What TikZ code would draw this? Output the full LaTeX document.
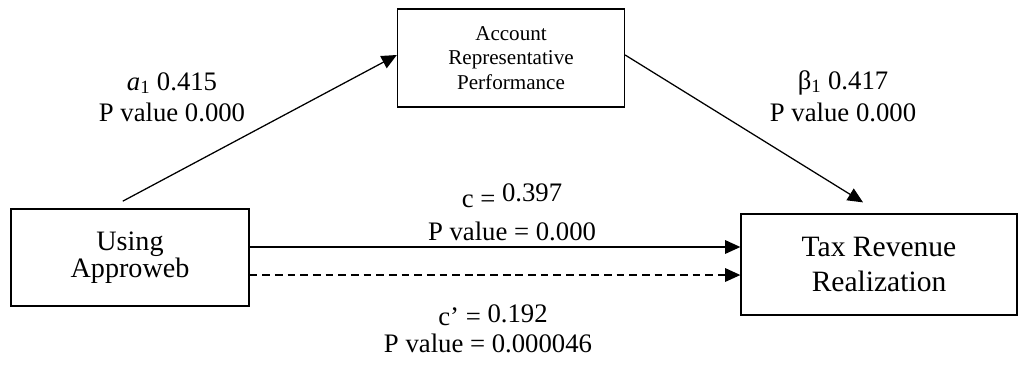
\documentclass[tikz,border=0pt]{standalone}
\usepackage{fontspec}
\setmainfont{Liberation Serif}
\usetikzlibrary{arrows.meta}
\begin{document}
\begin{tikzpicture}[x=0.025cm,y=-0.025cm,
    box/.style={draw,line width=0.9pt,align=center,inner sep=0pt},
    lab/.style={anchor=base,inner sep=0pt,font=\fontsize{19}{22}\selectfont},
    >={Triangle[length=0.38cm,width=0.34cm]}]
    \useasboundingbox (0,0) rectangle (1018,364);
    \node[box,minimum width=5.675cm,minimum height=2.45cm,font=\fontsize{15}{17.4}\selectfont]
        (med) at (511,58) {Account\\Representative\\Performance};
    \node[box,minimum width=5.95cm,minimum height=2.425cm,font=\fontsize{20}{19}\selectfont]
        (use) at (130,257.5) {Using\\Approweb};
    \node[box,minimum width=6.9cm,minimum height=2.525cm,font=\fontsize{21}{25.5}\selectfont]
        (tax) at (879,264.5) {Tax Revenue\\Realization};
    \node[lab] (a1) at (172,90) {\textit{a}\textsubscript{1} 0.415};
    \node[lab] (a1p) at (172,121) {P value 0.000};
    \node[lab] (b1) at (843,89) {β\textsubscript{1} 0.417};
    \node[lab] (b1p) at (843,121) {P value 0.000};
    \node[lab] (c) at (512,207) {c = \raisebox{4pt}{0.397}};
    \node[lab] (cp) at (512,240) {P value = 0.000};
    \node[lab] (cc) at (493,325) {c’ = \raisebox{2pt}{0.192}};
    \node[lab] (ccp) at (488,352) {P value = 0.000046};
    \coordinate (s1) at ([yshift=0.2625cm]use.east);
    \coordinate (s2) at ([yshift=-0.4375cm]use.east);
    \begin{scope}[line width=0.9pt]
        \draw[->] ([shift={(-0.18cm,0.18cm)}]use.north) -- ([yshift=0.075cm]med.west);
        \draw[->] ([yshift=0.075cm]med.east) -- ([shift={(-0.4cm,0.275cm)}]tax.north);
        \draw[->] (s1) -- (s1 -| tax.west);
        \draw[->,dash pattern=on 5.5pt off 3.5pt] (s2) -- (s2 -| tax.west);
    \end{scope}
\end{tikzpicture}
\end{document}
